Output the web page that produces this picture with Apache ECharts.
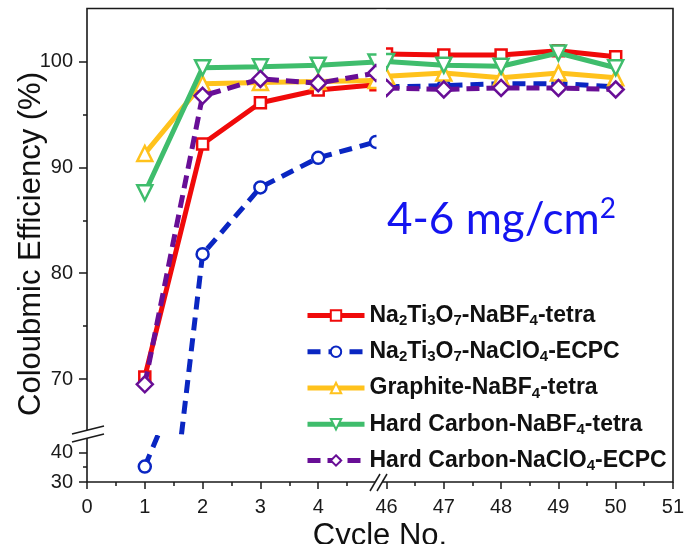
<!DOCTYPE html>
<html>
<head>
<meta charset="utf-8">
<script src="https://cdn.jsdelivr.net/npm/echarts@6/dist/echarts.min.js"></script>
<style>
html, body { margin: 0; padding: 0; background: #fff; }
#chart { width: 687px; height: 544px; }
</style>
</head>
<body>
<div id="chart"></div>
<script>
// cycles on each side of the x-axis break
var cyclesLeft = [1, 2, 3, 4, 5];
var cyclesRight = [46, 47, 48, 49, 50];

var seriesNames = [
	'Na2Ti3O7-NaBF4-tetra',
	'Na2Ti3O7-NaClO4-ECPC',
	'Graphite-NaBF4-tetra',
	'Hard Carbon-NaBF4-tetra',
	'Hard Carbon-NaClO4-ECPC'
];

// coulombic efficiency (%)
var ntoBf4Left = [70.2, 92.2, 96.1, 97.3, 97.8];
var ntoBf4Right = [100.7, 100.6, 100.6, 101.0, 100.45];
var ntoClo4Left = [35.2, 81.8, 88.1, 90.9, 92.4];
var ntoClo4Right = [97.6, 97.7, 97.9, 97.9, 97.6];
var graphiteLeft = [91.3, 97.9, 98.0, 98.1, 98.2];
var graphiteRight = [98.6, 98.9, 98.45, 98.9, 98.45];
var hcBf4Left = [87.6, 99.4, 99.5, 99.65, 99.95];
var hcBf4Right = [100.0, 99.65, 99.55, 100.8, 99.4];
var hcClo4Left = [69.5, 96.75, 98.35, 97.95, 98.9];
var hcClo4Right = [97.5, 97.35, 97.5, 97.5, 97.35];

// tick labels
var xTicksLeft = [0, 1, 2, 3, 4];
var xTicksRight = [46, 47, 48, 49, 50, 51];
var xMinorLeft = [0.5, 1.5, 2.5, 3.5, 4.5];
var xMinorRight = [46.5, 47.5, 48.5, 49.5, 50.5];
var yTicksUpper = [70, 80, 90, 100];
var yMinorUpper = [75, 85, 95];
var yTicksLower = [30, 40];
var yMinorLower = [35];

var FONT = 'Liberation Sans';
var AXIS = '#1a1a1a';
var NOTE = '#1414f0';

var legendText = {
	'Na2Ti3O7-NaBF4-tetra': '{b|Na}{s|2}{b|Ti}{s|3}{b|O}{s|7}{b|-NaBF}{s|4}{b|-tetra}',
	'Na2Ti3O7-NaClO4-ECPC': '{b|Na}{s|2}{b|Ti}{s|3}{b|O}{s|7}{b|-NaClO}{s|4}{b|-ECPC}',
	'Graphite-NaBF4-tetra': '{b|Graphite-NaBF}{s|4}{b|-tetra}',
	'Hard Carbon-NaBF4-tetra': '{b|Hard Carbon-NaBF}{s|4}{b|-tetra}',
	'Hard Carbon-NaClO4-ECPC': '{b|Hard Carbon-NaClO}{s|4}{b|-ECPC}'
};

var styles = [
	{ color: '#f00a0a', symbol: 'rect', size: 11, rotate: 0, dash: 'solid' },
	{ color: '#0a26c2', symbol: 'circle', size: 12, rotate: 0, dash: [13, 8] },
	{ color: '#ffc21c', symbol: 'triangle', size: 15, rotate: 0, dash: 'solid' },
	{ color: '#3fbd6c', symbol: 'triangle', size: 15, rotate: 180, dash: 'solid' },
	{ color: '#680e96', symbol: 'diamond', size: 16, rotate: 0, dash: [13, 7] }
];

var leftData = [ntoBf4Left, ntoClo4Left, graphiteLeft, hcBf4Left, hcClo4Left];
var rightData = [ntoBf4Right, ntoClo4Right, graphiteRight, hcBf4Right, hcClo4Right];

function pairs(xs, ys) {
	return xs.map(function(x, i) { return [x, ys[i]]; });
}

function tickAxis(grid, min, max, ticks, len, labels, pos) {
	return {
		type: 'value', gridIndex: grid, min: min, max: max, position: pos,
		axisLine: { show: false },
		splitLine: { show: false },
		axisTick: { show: true, customValues: ticks, length: len, lineStyle: { color: AXIS, width: 1.5 } },
		axisLabel: labels ? {
			show: true, customValues: ticks, fontSize: 20, fontFamily: FONT, color: '#1a1a1a',
			margin: pos === 'left' ? 14 : 15
		} : { show: false }
	};
}

function hiddenAxis(grid, min, max) {
	return { type: 'value', gridIndex: grid, min: min, max: max, show: false };
}

var xAxes = [
	hiddenAxis(0, 0, 5),                                   // 0 upper-left
	hiddenAxis(1, 46, 51),                                 // 1 upper-right
	tickAxis(2, 0, 5, xTicksLeft, 7, true, 'bottom'),      // 2 lower-left
	tickAxis(3, 46, 51, xTicksRight, 7, true, 'bottom'),   // 3 lower-right
	tickAxis(2, 0, 5, xMinorLeft, 4, false, 'bottom'),     // 4
	tickAxis(3, 46, 51, xMinorRight, 4, false, 'bottom'),  // 5
	hiddenAxis(4, 0, 1)                                    // 6 frame
];
var yAxes = [
	tickAxis(0, 65, 105, yTicksUpper, 8, true, 'left'),    // 0 upper-left
	tickAxis(0, 65, 105, yMinorUpper, 4, false, 'left'),   // 1
	tickAxis(2, 30, 45, yTicksLower, 8, true, 'left'),     // 2 lower-left
	tickAxis(2, 30, 45, yMinorLower, 4, false, 'left'),    // 3
	hiddenAxis(1, 65, 105),                                // 4 upper-right
	hiddenAxis(3, 30, 45),                                 // 5 lower-right
	hiddenAxis(4, 0, 1)                                    // 6 frame
];

var series = [];
seriesNames.forEach(function(name, i) {
	var st = styles[i];
	var parts = [
		{ data: pairs(cyclesLeft, leftData[i]), x: 0, y: 0 },
		{ data: pairs(cyclesRight, rightData[i]), x: 1, y: 4 },
		{ data: pairs(cyclesLeft, leftData[i]), x: 2, y: 2 }
	];
	parts.forEach(function(p) {
		series.push({
			name: name, type: 'line', xAxisIndex: p.x, yAxisIndex: p.y,
			data: p.data, clip: true,
			symbol: st.symbol, symbolSize: st.size, symbolRotate: st.rotate,
			showAllSymbol: true,
			lineStyle: { color: st.color, width: 5, type: st.dash },
			itemStyle: { color: '#fff', borderColor: st.color, borderWidth: 2.5 },
			emphasis: { disabled: true },
			z: 2 + i
		});
	});
});

var chart = echarts.init(document.getElementById('chart'), null, { renderer: 'canvas' });
chart.setOption({
	animation: false,
	backgroundColor: '#fff',
	grid: [
		{ left: 87, top: 8.5, width: 289, height: 423.5 },
		{ left: 386.5, top: 8.5, width: 286.5, height: 423.5 },
		{ left: 87, top: 437.5, width: 289, height: 44.5 },
		{ left: 386.5, top: 437.5, width: 286.5, height: 44.5 },
		{ left: 87, top: 8.5, width: 586, height: 473.5, show: true, borderColor: AXIS, borderWidth: 1.6, backgroundColor: 'transparent' }
	],
	xAxis: xAxes,
	yAxis: yAxes,
	legend: {
		data: seriesNames,
		orient: 'vertical',
		left: 300, top: 299,
		itemWidth: 57, itemHeight: 13, itemGap: 11.75,
		symbolRotate: 'inherit',
		lineStyle: { width: 5 },
		formatter: function(n) { return legendText[n]; },
		textStyle: {
			rich: {
				b: { fontSize: 23, fontWeight: 'bold', fontFamily: FONT, color: '#111', lineHeight: 26 },
				s: { fontSize: 15, fontWeight: 'bold', fontFamily: FONT, color: '#111', lineHeight: 12, verticalAlign: 'bottom' }
			}
		}
	},
	graphic: [
		{ type: 'text', x: 31, y: 244, rotation: Math.PI / 2, z: 10,
		  style: { text: 'Coloubmic Efficiency (%)', font: '31px "Liberation Sans"', fill: '#111', textAlign: 'center', textVerticalAlign: 'middle' } },
		{ type: 'text', x: 380, y: 536, z: 10,
		  style: { text: 'Cycle No.', font: '31px "Liberation Sans"', fill: '#111', textAlign: 'center', textVerticalAlign: 'middle' } },
		{ type: 'text', x: 387, y: 220, z: 10,
		  style: { text: '{m|4-6 mg/cm}{p|2}', textVerticalAlign: 'middle', fill: NOTE,
		    rich: { m: { fontSize: 44, fontFamily: 'Lato', fill: NOTE, lineHeight: 50 },
		            p: { fontSize: 28, fontFamily: 'Lato', fill: NOTE, lineHeight: 44, verticalAlign: 'top' } } } },
		// gap between the two halves of the x-axis break (upper part only)
		{ type: 'rect', z: 50, silent: true, shape: { x: 376.5, y: 9.5, width: 9.5, height: 270 }, style: { fill: '#fff' } },
		// y-axis break marks
		{ type: 'polygon', z: 100, shape: { points: [[72, 434], [104, 426], [104, 434], [72, 442]] }, style: { fill: '#fff' } },
		{ type: 'line', z: 101, shape: { x1: 72, y1: 434, x2: 104, y2: 426 }, style: { stroke: AXIS, lineWidth: 1.5 } },
		{ type: 'line', z: 101, shape: { x1: 72, y1: 442, x2: 104, y2: 434 }, style: { stroke: AXIS, lineWidth: 1.5 } },
		// x-axis break marks
		{ type: 'polygon', z: 100, shape: { points: [[370, 491], [380, 474], [387, 474], [377, 491]] }, style: { fill: '#fff' } },
		{ type: 'line', z: 101, shape: { x1: 370, y1: 491, x2: 380, y2: 474 }, style: { stroke: AXIS, lineWidth: 1.5 } },
		{ type: 'line', z: 101, shape: { x1: 377, y1: 491, x2: 387, y2: 474 }, style: { stroke: AXIS, lineWidth: 1.5 } }
	],
	series: series
});
</script>
</body>
</html>
